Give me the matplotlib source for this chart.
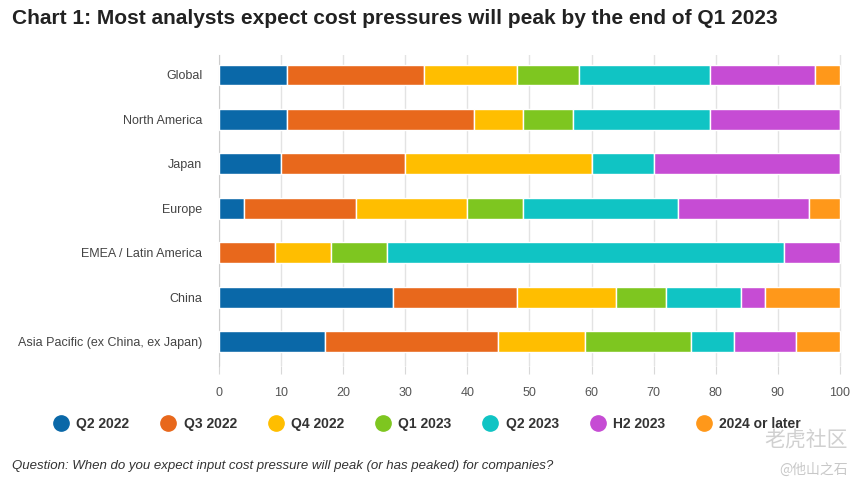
import numpy as np
import matplotlib.pyplot as plt
from matplotlib.lines import Line2D

# Data (percent of respondents)
regions = ['Global', 'North America', 'Japan', 'Europe', 'EMEA / Latin America',
           'China', 'Asia Pacific (ex China, ex Japan)']
periods = ['Q2 2022', 'Q3 2022', 'Q4 2022', 'Q1 2023', 'Q2 2023', 'H2 2023', '2024 or later']
q2_2022 = [11, 11, 10, 4, 0, 28, 17]
q3_2022 = [22, 30, 20, 18, 9, 20, 28]
q4_2022 = [15, 8, 30, 18, 9, 16, 14]
q1_2023 = [10, 8, 0, 9, 9, 8, 17]
q2_2023 = [21, 22, 10, 25, 64, 12, 7]
h2_2023 = [17, 21, 30, 21, 9, 4, 10]
later = [4, 0, 0, 5, 0, 12, 7]
series = [q2_2022, q3_2022, q4_2022, q1_2023, q2_2023, h2_2023, later]
colors = ['#0a68a8', '#e8681c', '#ffbe00', '#7ec620', '#10c4c4', '#c64cd4', '#ff981a']

plt.rcParams['font.family'] = ['Liberation Sans', 'DejaVu Sans']

fig = plt.figure(figsize=(8.64, 4.91), dpi=100)
ax = fig.add_axes([219 / 864, 1 - 366 / 491, 624 / 864, 311 / 491])

y = np.arange(len(regions))
left = np.zeros(len(regions))
for vals, col in zip(series, colors):
    vals = np.array(vals, dtype=float)
    ax.barh(y, vals, left=left, height=0.47, color=col, edgecolor='white', linewidth=1, zorder=3)
    left += vals

ax.set_ylim(len(regions) - 0.45, -0.45)
ax.set_xlim(0, 100.5)
ax.set_yticks(y)
ax.set_yticklabels(regions, fontsize=9, color='#444444')
ax.set_xticks(np.arange(0, 101, 10))
ax.tick_params(axis='x', labelsize=9, labelcolor='#555555', length=6, color='#d8d8d8', pad=9)
ax.tick_params(axis='y', length=0, pad=12)
ax.grid(axis='x', color='#e3e3e3', linewidth=1, zorder=0)
for s in ['top', 'right', 'bottom']:
    ax.spines[s].set_visible(False)
ax.spines['left'].set_color('#cccccc')

fig.text(12 / 864, 1 - 18 / 491, 'Chart 1: Most analysts expect cost pressures will peak by the end of Q1 2023',
         fontsize=15, fontweight='bold', color='#222222', va='center')

handles = [Line2D([], [], marker='o', linestyle='', markersize=11, color=c) for c in colors]
fig.legend(handles, periods, loc='center', bbox_to_anchor=(0.494, 1 - 424 / 491), ncol=7,
           frameon=False, prop={'size': 10, 'weight': 'bold'}, handletextpad=0.5,
           columnspacing=2.2, handlelength=1.2, labelcolor='#333333')

fig.text(12 / 864, 1 - 466 / 491,
         'Question: When do you expect input cost pressure will peak (or has peaked) for companies?',
         fontsize=9.5, style='italic', color='#333333', va='center')

# watermark
fig.text(848 / 864, 1 - 440 / 491, '老虎社区', fontsize=15, color='#d0d0d0', ha='right', va='center',
         family=['Noto Sans CJK SC', 'DejaVu Sans'])
fig.text(848 / 864, 1 - 470 / 491, '@他山之石', fontsize=10, color='#c8c8c8', ha='right', va='center',
         family=['Noto Sans CJK SC', 'DejaVu Sans'])

fig.savefig('out.png', dpi=100)
